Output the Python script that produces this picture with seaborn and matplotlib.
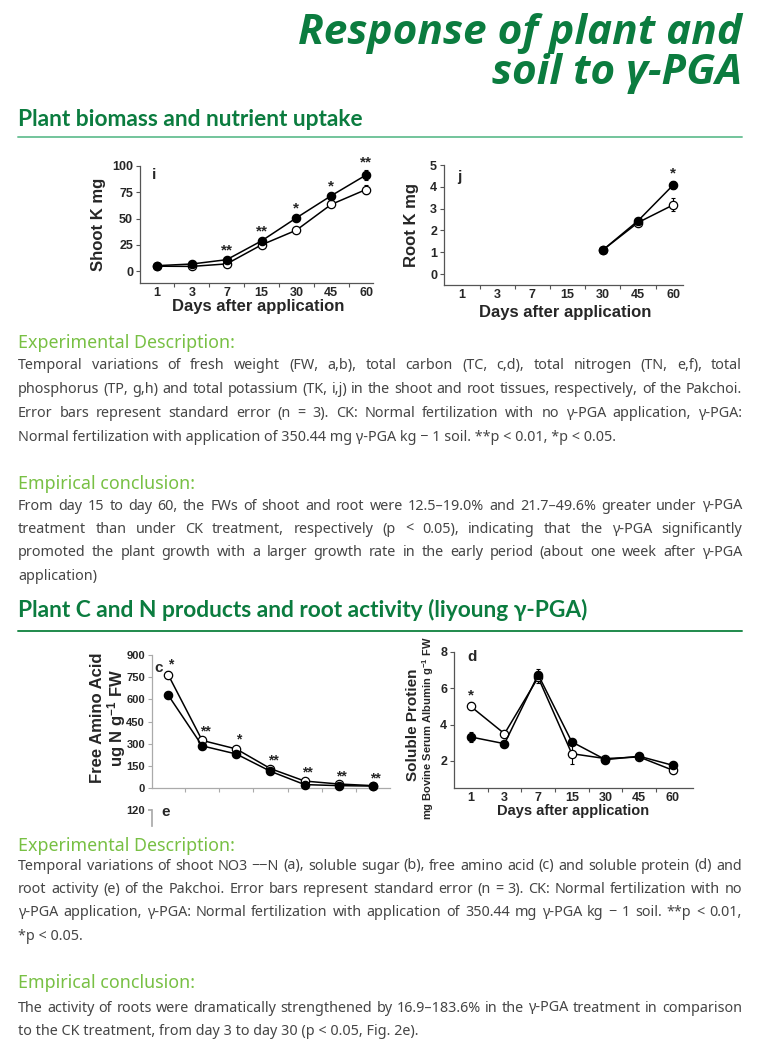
import numpy as np
import pandas as pd
import matplotlib
matplotlib.use("Agg")
import matplotlib.pyplot as plt
import seaborn as sns
from matplotlib import font_manager
from matplotlib.lines import Line2D

W, H = 763, 1058

## data
days = ["1", "3", "7", "15", "30", "45", "60"]

# panel i - shoot K (mg), filled = γ-PGA, open = CK
shoot_k_pga = [5.1, 6.7, 10.8, 28.7, 50.6, 71.7, 91.4]
shoot_k_pga_se = [0.6, 0.8, 1.2, 1.5, 1.5, 2.0, 5.0]
shoot_k_ck = [4.6, 4.4, 6.8, 24.9, 38.9, 63.4, 77.6]
shoot_k_ck_se = [0.5, 0.6, 1.0, 1.5, 1.5, 1.5, 4.0]
shoot_k_sig = ["", "", "**", "**", "*", "*", "**"]

# panel j - root K (mg), only from day 30
root_k_days = ["30", "45", "60"]
root_k_pga = [1.1, 2.44, 4.08]
root_k_pga_se = [0.05, 0.12, 0.2]
root_k_ck = [1.1, 2.36, 3.17]
root_k_ck_se = [0.05, 0.1, 0.3]
root_k_sig = ["", "", "*"]

# panel c - free amino acid (ug N g-1 FW)
amino_pga = [630, 285, 230, 113, 23, 16, 13]
amino_pga_se = [10, 10, 10, 8, 6, 5, 4]
amino_ck = [768, 322, 264, 131, 47, 27, 16]
amino_ck_se = [22, 14, 14, 10, 10, 6, 4]
amino_sig = ["*", "**", "*", "**", "**", "**", "**"]

# panel d - soluble protein
protein_pga = [3.32, 2.95, 6.75, 3.05, 2.07, 2.26, 1.76]
protein_pga_se = [0.3, 0.12, 0.3, 0.1, 0.08, 0.1, 0.15]
protein_ck = [5.0, 3.5, 6.6, 2.4, 2.13, 2.22, 1.49]
protein_ck_se = [0.22, 0.1, 0.3, 0.55, 0.08, 0.08, 0.08]
protein_sig = ["*", "", "", "", "", "", ""]

## texts
title_lines = ["Response of plant and", "soil to γ-PGA"]
section1 = "Plant biomass and nutrient uptake"
section2 = "Plant C and N products and root activity (liyoung γ-PGA)"
desc1 = [
    "Temporal variations of fresh weight (FW, a,b), total carbon (TC, c,d), total nitrogen (TN, e,f), total",
    "phosphorus (TP, g,h) and total potassium (TK, i,j) in the shoot and root tissues, respectively, of the Pakchoi.",
    "Error bars represent standard error (n = 3). CK: Normal fertilization with no γ-PGA application, γ-PGA:",
    "Normal fertilization with application of 350.44 mg γ-PGA kg − 1 soil. **p < 0.01, *p < 0.05.",
]
concl1 = [
    "From day 15 to day 60, the FWs of shoot and root were 12.5–19.0% and 21.7–49.6% greater under γ-PGA",
    "treatment than under CK treatment, respectively (p < 0.05), indicating that the γ-PGA significantly",
    "promoted the plant growth with a larger growth rate in the early period (about one week after γ-PGA",
    "application)",
]
desc2 = [
    "Temporal variations of shoot NO3 −−N (a), soluble sugar (b), free amino acid (c) and soluble protein (d) and",
    "root activity (e) of the Pakchoi. Error bars represent standard error (n = 3). CK: Normal fertilization with no",
    "γ-PGA application, γ-PGA: Normal fertilization with application of 350.44 mg γ-PGA kg − 1 soil. **p < 0.01,",
    "*p < 0.05.",
]
concl2 = [
    "The activity of roots were dramatically strengthened by 16.9–183.6% in the γ-PGA treatment in comparison",
    "to the CK treatment, from day 3 to day 30 (p < 0.05, Fig. 2e).",
]

## fonts
sns.set_theme(style="ticks")
fonts = font_manager.fontManager.ttflist


def weight_of(f):
    if isinstance(f.weight, int):
        return f.weight
    return font_manager.weight_dict.get(f.weight, 400)


def has_bold(name):
    return any(f.name == name and weight_of(f) >= 600 for f in fonts)


def has_italic(name):
    return any(f.name == name and f.style == "italic" for f in fonts)


def pick(names, test=lambda n: any(f.name == n for f in fonts)):
    for n in names:
        if test(n):
            return n
    return "DejaVu Sans"


chart_font = pick(["Liberation Sans Narrow", "Liberation Sans"])
body_font = pick(["Noto Sans", "Open Sans", "Liberation Sans"])
head_font = pick(["Lato", "Roboto", "Open Sans", "Noto Sans", "Liberation Sans"], has_bold)
title_font = pick(["Open Sans", "Noto Sans", "Roboto", "Lato"], has_italic)

plt.rcParams["font.family"] = [chart_font, "DejaVu Sans"]
plt.rcParams["mathtext.fontset"] = "custom"
plt.rcParams["mathtext.rm"] = chart_font + ":bold"
plt.rcParams["mathtext.bf"] = chart_font + ":bold"
plt.rcParams["mathtext.it"] = chart_font + ":bold"

dark_green = "#0b7c3f"
light_green = "#78c044"
body_color = "#454545"

fig = plt.figure(figsize=(W / 100, H / 100), dpi=100)
fig.patch.set_facecolor("white")
renderer = fig.canvas.get_renderer()


def rect(x0, y0, x1, y1):
    return [x0 / W, 1 - y1 / H, (x1 - x0) / W, (y1 - y0) / H]


def fx(x):
    return x / W


def fy(y):
    return 1 - y / H


def fit_size(s, width, **kw):
    t = fig.text(0, 0, s, fontsize=10, **kw)
    w = t.get_window_extent(renderer).width
    t.remove()
    return 10 * width / w


def panel(ax, xdays, pga, pga_se, ck, ck_se, sig, star_pad, star_size=11, star_dx=0.0):
    pos = [days.index(d) for d in xdays]
    n = len(pos)
    df = pd.DataFrame({
        "pos": pos * 2,
        "value": pga + ck,
        "se": pga_se + ck_se,
        "trt": ["γ-PGA"] * n + ["CK"] * n,
    })
    for trt, face in [("CK", "white"), ("γ-PGA", "black")]:
        sub = df[df["trt"] == trt]
        ax.errorbar(sub["pos"], sub["value"], yerr=sub["se"], fmt="none",
                    ecolor="black", elinewidth=0.8, capsize=1.5, capthick=0.8,
                    clip_on=False, zorder=2)
        sns.lineplot(data=sub, x="pos", y="value", ax=ax, color="black", lw=1.1,
                     marker="o", markersize=6, markerfacecolor=face,
                     markeredgecolor="black", markeredgewidth=0.9,
                     errorbar=None, clip_on=False, zorder=3)
    top = np.maximum(np.add(pga, pga_se), np.add(ck, ck_se))
    for p, t, s in zip(pos, top, sig):
        if s:
            ax.text(p + star_dx, t + star_pad, s, ha="center", va="bottom",
                    fontsize=star_size, fontweight="bold", clip_on=False)


def style(ax, xlim, ylim, yticks, axis_color, tick_size=9, xlabels=True):
    ax.set_xlim(*xlim)
    ax.set_ylim(*ylim)
    ax.set_yticks(yticks)
    ax.set_xticks(range(len(days)))
    ax.set_xticklabels(days if xlabels else [])
    ax.set_xticks(np.arange(len(days) - 1) + 0.5, minor=True)
    ax.tick_params(axis="x", which="major", length=0, pad=3, labelsize=tick_size)
    ax.tick_params(axis="x", which="minor", length=3, color=axis_color, width=0.8)
    ax.tick_params(axis="y", length=3, color=axis_color, width=0.8, pad=2, labelsize=tick_size)
    for lab in ax.get_xticklabels() + ax.get_yticklabels():
        lab.set_fontweight("bold")
    sns.despine(ax=ax)
    for sp in ["left", "bottom"]:
        ax.spines[sp].set_color(axis_color)
        ax.spines[sp].set_linewidth(0.9)
    ax.set_xlabel("")
    ax.set_ylabel("")
    ax.patch.set_alpha(0)


def paragraph(lines, y0, dy, size):
    for k, line in enumerate(lines):
        y = fy(y0 + k * dy)
        if k == len(lines) - 1:
            fig.text(fx(18), y, line, fontsize=size, family=body_font,
                     color=body_color, va="center")
            continue
        words = line.split(" ")
        objs = [fig.text(0, y, w, fontsize=size, family=body_font,
                         color=body_color, va="center") for w in words]
        widths = [o.get_window_extent(renderer).width for o in objs]
        gap = (724 - sum(widths)) / (len(words) - 1)
        x = 18
        for o, w in zip(objs, widths):
            o.set_x(fx(x))
            x += w + gap


## title and section headers
tsize = fit_size(title_lines[0], 445, fontweight="bold", fontstyle="italic", family=title_font)
fig.text(fx(742), fy(44), title_lines[0], ha="right", va="baseline", fontsize=tsize,
         fontweight="bold", fontstyle="italic", family=title_font, color=dark_green)
fig.text(fx(742), fy(84), title_lines[1], ha="right", va="baseline", fontsize=tsize,
         fontweight="bold", fontstyle="italic", family=title_font, color=dark_green)

hsize = fit_size(section1, 347, fontweight="bold", family=head_font)
fig.text(fx(18), fy(126), section1, va="baseline", fontsize=hsize,
         fontweight="bold", family=head_font, color=dark_green)
fig.add_artist(Line2D([fx(18), fx(742)], [fy(137)] * 2, color="#72c49b", lw=1.4))
fig.text(fx(18), fy(617), section2, va="baseline", fontsize=hsize,
         fontweight="bold", family=head_font, color=dark_green)
fig.add_artist(Line2D([fx(18), fx(742)], [fy(631)] * 2, color="#1f8a4c", lw=1.4))

## body text
ssize = fit_size("Experimental Description:", 217, family=body_font)
bsize = fit_size(desc1[1], 716, family=body_font)
for label, y in [("Experimental Description:", 343), ("Empirical conclusion:", 484),
                 ("Experimental Description:", 846), ("Empirical conclusion:", 983)]:
    fig.text(fx(18), fy(y), label, va="center", fontsize=ssize,
             family=body_font, color=light_green)
paragraph(desc1, 365, 24, bsize)
paragraph(concl1, 506, 23.4, bsize)
paragraph(desc2, 866, 23.4, bsize)
paragraph(concl2, 1008, 23.4, bsize)

## panel i
ax_i = fig.add_axes(rect(140, 166, 373, 283))
panel(ax_i, days, shoot_k_pga, shoot_k_pga_se, shoot_k_ck, shoot_k_ck_se, shoot_k_sig, 0.5)
style(ax_i, (-0.49, 6.2), (-11.4, 100), [0, 25, 50, 75, 100], "#555555")
ax_i.text(0.05, 0.92, "i", transform=ax_i.transAxes, fontsize=11, fontweight="bold", va="center")
fig.text(fx(98), fy(224), "Shoot K mg", rotation=90, ha="center", va="center", fontsize=12, fontweight="bold")
fig.text(fx(258), fy(307), "Days after application", ha="center", va="center", fontsize=12, fontweight="bold")

## panel j
ax_j = fig.add_axes(rect(444, 165, 683, 285))
panel(ax_j, root_k_days, root_k_pga, root_k_pga_se, root_k_ck, root_k_ck_se, root_k_sig, 0.0)
style(ax_j, (-0.51, 6.28), (-0.5, 5), [0, 1, 2, 3, 4, 5], "#555555")
ax_j.text(0.055, 0.9, "j", transform=ax_j.transAxes, fontsize=11, fontweight="bold", va="center")
fig.text(fx(411), fy(225), "Root K mg", rotation=90, ha="center", va="center", fontsize=12, fontweight="bold")
fig.text(fx(565), fy(313), "Days after application", ha="center", va="center", fontsize=12, fontweight="bold")

## panel c
ax_c = fig.add_axes(rect(152, 655, 390, 788))
panel(ax_c, days, amino_pga, amino_pga_se, amino_ck, amino_ck_se, amino_sig, 0, star_size=10, star_dx=0.08)
style(ax_c, (-0.47, 6.5), (0, 900), [0, 150, 300, 450, 600, 750, 900], "#aaaaaa",
      tick_size=8, xlabels=False)
ax_c.text(0.008, 0.9, "c", transform=ax_c.transAxes, fontsize=11, fontweight="bold", va="center")
fig.text(fx(97), fy(718), "Free Amino Acid", rotation=90, ha="center", va="center", fontsize=12, fontweight="bold")
fig.text(fx(117), fy(718), r"ug N g$^{-1}$ FW", rotation=90, ha="center", va="center", fontsize=12, fontweight="bold")

# cropped top of panel e
ax_e = fig.add_axes(rect(152, 810, 390, 826))
ax_e.set_ylim(0, 120)
ax_e.set_yticks([120])
ax_e.set_xticks([])
ax_e.tick_params(axis="y", length=3, color="#aaaaaa", labelsize=8, pad=2)
for lab in ax_e.get_yticklabels():
    lab.set_fontweight("bold")
sns.despine(ax=ax_e, bottom=True)
ax_e.spines["left"].set_color("#aaaaaa")
ax_e.patch.set_alpha(0)
ax_e.text(0.04, 0.85, "e", transform=ax_e.transAxes, fontsize=11, fontweight="bold", va="center")

## panel d
ax_d = fig.add_axes(rect(454, 652, 693, 788))
panel(ax_d, days, protein_pga, protein_pga_se, protein_ck, protein_ck_se, protein_sig, 0.0)
style(ax_d, (-0.5, 6.6), (0.51, 8), [2, 4, 6, 8], "#555555")
ax_d.text(0.055, 0.96, "d", transform=ax_d.transAxes, fontsize=11, fontweight="bold", va="center")
fig.text(fx(413), fy(725), "Soluble Protien", rotation=90, ha="center", va="center", fontsize=11, fontweight="bold")
fig.text(fx(428), fy(728), r"mg Bovine Serum Albumin g$^{-1}$ FW", rotation=90, ha="center",
         va="center", fontsize=8, fontweight="bold")
fig.text(fx(573), fy(811), "Days after application", ha="center", va="center", fontsize=10.5, fontweight="bold")

fig.savefig("out.png", dpi=100, facecolor="white")
